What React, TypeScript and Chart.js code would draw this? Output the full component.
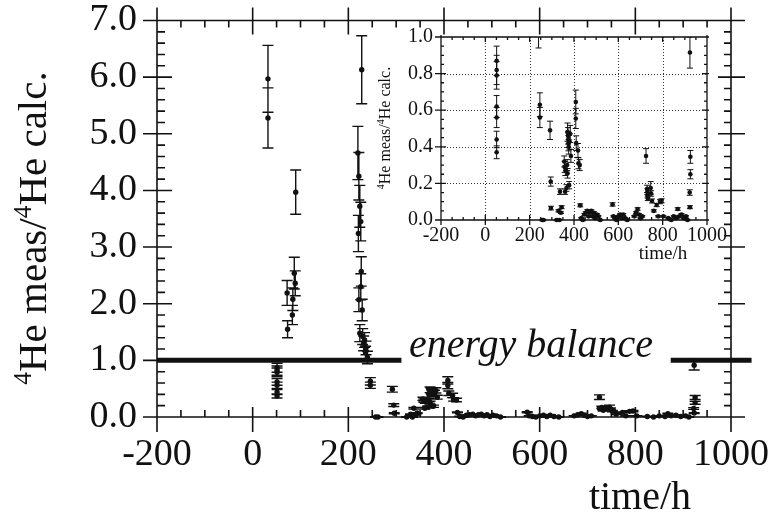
import React, { useEffect, useRef } from "react";
import { Chart, registerables } from "chart.js";
Chart.register(...registerables);

const FONT = "'Liberation Serif', 'Times New Roman', Times, serif";
const INK = "#111";

// ---- data: time/h, 4He meas / 4He calc, error ----
const times = [
  32, 32, 90, 87, 89, 72, 84, 83, 73,
  228, 220, 222, 224, 226, 221, 227, 226, 222, 229, 224, 230, 234, 232, 237, 236, 240,
  51, 51, 51, 51, 51, 51, 51,
  246, 246, 292, 295, 296, 257, 262, 322, 330, 337, 344, 341, 334,
  356, 358, 361, 360, 366, 371, 373, 374, 375, 376, 369, 371, 378, 386, 380, 383,
  408, 408, 410, 418, 420, 426, 428,
  433, 440, 447, 453, 460, 466, 472, 478, 484, 490, 496, 503, 510, 518,
  574, 578, 585, 592, 600, 608, 615, 622, 630, 640,
  672, 680, 687, 693, 700, 708,
  725, 730, 731, 732, 733, 746, 748, 752, 760, 773, 780, 788, 795, 803,
  825, 838, 850, 862, 868, 875, 885, 895, 905, 912,
  923, 925, 925, 922, 923,
];
const ratios = [
  5.97, 5.28, 3.97, 2.54, 2.36, 2.19, 2.08, 1.80, 1.55,
  6.13, 4.66, 4.25, 3.72, 3.45, 3.24, 2.57, 2.30, 2.07, 1.89, 1.48, 1.42, 1.36, 1.30, 1.22, 1.14, 1.05,
  0.87, 0.82, 0.79, 0.62, 0.56, 0.44, 0.37,
  0.63, 0.56, 0.49, 0.21, 0.065, 0.0, 0.0, 0.0, 0.05, 0.155, 0.07, 0.04, 0.0,
  0.32, 0.29, 0.27, 0.155, 0.175, 0.48, 0.46, 0.44, 0.42, 0.40, 0.30, 0.255, 0.19, 0.35, 0.43, 0.47,
  0.645, 0.555, 0.42, 0.38, 0.31, 0.30, 0.08,
  0.01, 0.0, 0.03, 0.04, 0.05, 0.02, 0.04, 0.05, 0.02, 0.04, 0.01, 0.03, 0.02, 0.0,
  0.085, 0.02, 0.01, 0.0, 0.02, 0.03, 0.01, 0.03, 0.01, 0.0,
  0.02, 0.04, 0.06, 0.03, 0.01, 0.02,
  0.35, 0.17, 0.155, 0.135, 0.118, 0.175, 0.145, 0.104, 0.05, 0.082, 0.02, 0.10, 0.105, 0.02,
  0.01, 0.0, 0.02, 0.01, 0.06, 0.02, 0.03, 0.01, 0.02, 0.0,
  0.915, 0.345, 0.25, 0.15, 0.07,
];
const errors = [
  0.59, 0.53, 0.39, 0.28, 0.22, 0.22, 0.20, 0.17, 0.15,
  0.60, 0.47, 0.42, 0.37, 0.34, 0.32, 0.26, 0.23, 0.21, 0.19, 0.15, 0.14, 0.13, 0.13, 0.12, 0.11, 0.11,
  0.08, 0.08, 0.075, 0.06, 0.055, 0.045, 0.035,
  0.065, 0.055, 0.05, 0.025, 0.01, 0.004, 0.004, 0.004, 0.006, 0.015, 0.008, 0.005, 0.004,
  0.03, 0.03, 0.027, 0.015, 0.018, 0.05, 0.045, 0.044, 0.042, 0.04, 0.03, 0.026, 0.02, 0.035, 0.043, 0.047,
  0.065, 0.055, 0.04, 0.038, 0.03, 0.03, 0.008,
  0.004, 0.004, 0.005, 0.005, 0.006, 0.004, 0.005, 0.006, 0.004, 0.005, 0.004, 0.005, 0.004, 0.004,
  0.009, 0.004, 0.004, 0.004, 0.004, 0.005, 0.004, 0.005, 0.004, 0.004,
  0.004, 0.005, 0.007, 0.005, 0.004, 0.004,
  0.04, 0.02, 0.016, 0.014, 0.012, 0.035, 0.015, 0.011, 0.006, 0.009, 0.004, 0.011, 0.011, 0.004,
  0.004, 0.004, 0.004, 0.004, 0.007, 0.004, 0.005, 0.004, 0.004, 0.004,
  0.085, 0.035, 0.025, 0.015, 0.008,
];

const mainXTicks = [-200, 0, 200, 400, 600, 800, 1000];
const mainYTicks = [0, 1, 2, 3, 4, 5, 6, 7];
const insetXTicks = [-200, 0, 200, 400, 600, 800, 1000];
const insetYTicks = [0, 0.2, 0.4, 0.6, 0.8, 1.0];
const balanceLevel = 1.0;
const balanceLeftX = [-200, 311];
const balanceRightX = [874, 1043];
const yTitleParts = [
  { t: "4", sup: true },
  { t: "He meas/", sup: false },
  { t: "4", sup: true },
  { t: "He calc.", sup: false },
];

function pointsData() {
  return times.map((t, i) => ({ x: t, y: ratios[i] }));
}

function seg(ctx: CanvasRenderingContext2D, x1: number, y1: number, x2: number, y2: number) {
  ctx.moveTo(x1, y1);
  ctx.lineTo(x2, y2);
}

function drawRotatedTitle(ctx: CanvasRenderingContext2D, baseX: number, centerY: number, size: number) {
  ctx.save();
  ctx.translate(baseX, centerY);
  ctx.rotate(-Math.PI / 2);
  ctx.fillStyle = INK;
  ctx.textBaseline = "alphabetic";
  ctx.textAlign = "left";
  const supSize = size * 0.62;
  let total = 0;
  const widths = yTitleParts.map((p) => {
    ctx.font = `${p.sup ? supSize : size}px ${FONT}`;
    const w = ctx.measureText(p.t).width;
    total += w;
    return w;
  });
  let x = -total / 2;
  yTitleParts.forEach((p, i) => {
    ctx.font = `${p.sup ? supSize : size}px ${FONT}`;
    ctx.fillText(p.t, x, p.sup ? -size * 0.36 : 0);
    x += widths[i];
  });
  ctx.restore();
}

function makeErrorBars(cap: number, lw: number, clip: boolean) {
  return {
    id: "errorBars",
    afterDatasetsDraw(chart: any) {
      const { ctx, chartArea } = chart;
      const xs = chart.scales.x;
      const ys = chart.scales.y;
      ctx.save();
      if (clip) {
        ctx.beginPath();
        ctx.rect(chartArea.left - 8, chartArea.top, chartArea.right - chartArea.left + 16, chartArea.bottom - chartArea.top + 8);
        ctx.clip();
      }
      ctx.strokeStyle = INK;
      ctx.lineWidth = lw;
      ctx.beginPath();
      for (let i = 0; i < times.length; i++) {
        const px = xs.getPixelForValue(times[i]);
        const yt = ys.getPixelForValue(ratios[i] + errors[i]);
        const yb = ys.getPixelForValue(ratios[i] - errors[i]);
        seg(ctx, px, yt, px, yb);
        seg(ctx, px - cap, yt, px + cap, yt);
        seg(ctx, px - cap, yb, px + cap, yb);
      }
      ctx.stroke();
      ctx.restore();
    },
  };
}

const mainFrame = {
  id: "mainFrame",
  afterDraw(chart: any) {
    const ctx: CanvasRenderingContext2D = chart.ctx;
    const xs = chart.scales.x;
    const ys = chart.scales.y;
    const L = xs.getPixelForValue(-200);
    const R = xs.getPixelForValue(1000);
    const T = ys.getPixelForValue(7);
    const B = ys.getPixelForValue(0);
    ctx.save();
    ctx.strokeStyle = INK;
    ctx.lineWidth = 1.6;
    ctx.beginPath();
    seg(ctx, L - 14, T, R + 14, T);
    seg(ctx, L - 14, B, R + 14, B);
    seg(ctx, L, T - 13, L, B + 15);
    seg(ctx, R, T - 13, R, B + 15);
    for (let v = -200; v <= 1000; v += 50) {
      const px = xs.getPixelForValue(v);
      if (v % 200 === 0) {
        seg(ctx, px, B - 10, px, B + 15);
        seg(ctx, px, T - 13, px, T + 14);
      } else {
        seg(ctx, px, B - 7, px, B);
        seg(ctx, px, T, px, T + 7);
      }
    }
    for (let k = 0; k <= 35; k++) {
      const py = ys.getPixelForValue(k * 0.2);
      if (k % 5 === 0) {
        seg(ctx, L - 14, py, L + 15, py);
        seg(ctx, R - 13, py, R + 14, py);
      } else {
        seg(ctx, L, py, L + 8, py);
        seg(ctx, R - 7, py, R, py);
      }
    }
    ctx.stroke();
    ctx.fillStyle = INK;
    ctx.textBaseline = "alphabetic";
    ctx.textAlign = "center";
    ctx.font = `40px ${FONT}`;
    ctx.fillText("time/h", 640, 509);
    ctx.font = `italic 40px ${FONT}`;
    ctx.fillText("energy balance", 531, 357);
    ctx.restore();
    drawRotatedTitle(ctx, 46, 228, 41);
  },
};

const insetFrame = {
  id: "insetFrame",
  beforeDatasetsDraw(chart: any) {
    const ctx: CanvasRenderingContext2D = chart.ctx;
    const xs = chart.scales.x;
    const ys = chart.scales.y;
    const L = xs.getPixelForValue(-200);
    const R = xs.getPixelForValue(1000);
    const T = ys.getPixelForValue(1);
    const B = ys.getPixelForValue(0);
    ctx.save();
    ctx.strokeStyle = "#333";
    ctx.lineWidth = 1;
    ctx.setLineDash([1, 2]);
    ctx.beginPath();
    for (let v = 0; v <= 800; v += 200) {
      const px = Math.round(xs.getPixelForValue(v)) + 0.5;
      seg(ctx, px, T, px, B);
    }
    for (let k = 1; k <= 4; k++) {
      const py = Math.round(ys.getPixelForValue(k * 0.2)) + 0.5;
      seg(ctx, L, py, R, py);
    }
    ctx.stroke();
    ctx.setLineDash([]);
    ctx.strokeStyle = INK;
    ctx.lineWidth = 1.3;
    ctx.beginPath();
    seg(ctx, L - 6, T, R + 2, T);
    seg(ctx, L - 6, B, R + 2, B);
    seg(ctx, L, T - 2, L, B + 5);
    seg(ctx, R, T - 2, R, B + 5);
    for (let v = -200; v <= 1000; v += 50) {
      const px = xs.getPixelForValue(v);
      if (v % 200 === 0) {
        seg(ctx, px, B - 5, px, B + 5);
        seg(ctx, px, T, px, T + 5);
      } else {
        seg(ctx, px, B - 3, px, B);
        seg(ctx, px, T, px, T + 3);
      }
    }
    for (let k = 0; k <= 20; k++) {
      const py = ys.getPixelForValue(k * 0.05);
      if (k % 4 === 0) {
        seg(ctx, L - 6, py, L + 5, py);
        seg(ctx, R - 5, py, R + 2, py);
      } else {
        seg(ctx, L, py, L + 3, py);
        seg(ctx, R - 3, py, R, py);
      }
    }
    ctx.stroke();
    ctx.restore();
  },
  afterDraw(chart: any) {
    const ctx: CanvasRenderingContext2D = chart.ctx;
    ctx.save();
    ctx.fillStyle = INK;
    ctx.textAlign = "center";
    ctx.textBaseline = "alphabetic";
    ctx.font = `19px ${FONT}`;
    ctx.fillText("time/h", 293, 234);
    ctx.restore();
    drawRotatedTitle(ctx, 20, 103, 16);
  },
};

function noPadX(axis: any, h: number) {
  axis.height = h;
  axis.paddingLeft = 0;
  axis.paddingRight = 0;
  axis.paddingTop = 0;
  axis.paddingBottom = 0;
}
function noPadY(axis: any, w: number) {
  axis.width = w;
  axis.paddingLeft = 0;
  axis.paddingRight = 0;
  axis.paddingTop = 0;
  axis.paddingBottom = 0;
}

export default function App() {
  const mainRef = useRef<HTMLCanvasElement>(null);
  const insetRef = useRef<HTMLCanvasElement>(null);

  useEffect(() => {
    const main = new Chart(mainRef.current as HTMLCanvasElement, {
      type: "scatter",
      data: {
        datasets: [
          {
            data: balanceLeftX.map((x) => ({ x, y: balanceLevel })),
            showLine: true,
            borderColor: INK,
            borderWidth: 5,
            pointRadius: 0,
            clip: false as any,
          },
          {
            data: balanceRightX.map((x) => ({ x, y: balanceLevel })),
            showLine: true,
            borderColor: INK,
            borderWidth: 5,
            pointRadius: 0,
            clip: false as any,
          },
          {
            data: pointsData(),
            backgroundColor: INK,
            borderColor: INK,
            borderWidth: 0,
            pointRadius: 2.7,
            clip: false as any,
          },
        ],
      },
      options: {
        animation: false,
        responsive: false,
        devicePixelRatio: 1,
        events: [],
        layout: { padding: { top: 20.5, right: 44, left: 0, bottom: 0 } },
        plugins: { legend: { display: false }, tooltip: { enabled: false } },
        scales: {
          x: {
            type: "linear",
            min: -200,
            max: 1000,
            afterBuildTicks: (axis: any) => {
              axis.ticks = mainXTicks.map((v) => ({ value: v }));
            },
            afterFit: (axis: any) => noPadX(axis, 98),
            grid: { display: false, drawTicks: false },
            border: { display: false },
            ticks: {
              autoSkip: false,
              maxRotation: 0,
              padding: 15,
              color: INK,
              font: { family: FONT, size: 38 },
              callback: (v: any) => String(v),
            },
          },
          y: {
            type: "linear",
            min: 0,
            max: 7,
            afterBuildTicks: (axis: any) => {
              axis.ticks = mainYTicks.map((v) => ({ value: v }));
            },
            afterFit: (axis: any) => noPadY(axis, 157),
            grid: { display: false, drawTicks: false },
            border: { display: false },
            ticks: {
              padding: 20,
              color: INK,
              font: { family: FONT, size: 38 },
              callback: (v: any) => Number(v).toFixed(1),
            },
          },
        },
      },
      plugins: [makeErrorBars(5.5, 1.4, false), mainFrame],
    } as any);

    const inset = new Chart(insetRef.current as HTMLCanvasElement, {
      type: "scatter",
      data: {
        datasets: [
          {
            data: pointsData(),
            backgroundColor: INK,
            borderColor: INK,
            borderWidth: 0,
            pointRadius: 2.3,
            clip: { left: 6, right: 6, top: 0, bottom: 6 } as any,
          },
        ],
      },
      options: {
        animation: false,
        responsive: false,
        devicePixelRatio: 1,
        events: [],
        layout: { padding: { top: 12, right: 33, left: 0, bottom: 0 } },
        plugins: { legend: { display: false }, tooltip: { enabled: false } },
        scales: {
          x: {
            type: "linear",
            min: -200,
            max: 1000,
            afterBuildTicks: (axis: any) => {
              axis.ticks = insetXTicks.map((v) => ({ value: v }));
            },
            afterFit: (axis: any) => noPadX(axis, 55),
            grid: { display: false, drawTicks: false },
            border: { display: false },
            ticks: {
              autoSkip: false,
              maxRotation: 0,
              padding: 4,
              color: INK,
              font: { family: FONT, size: 20 },
              callback: (v: any) => String(v),
            },
          },
          y: {
            type: "linear",
            min: 0,
            max: 1,
            afterBuildTicks: (axis: any) => {
              axis.ticks = insetYTicks.map((v) => ({ value: v }));
            },
            afterFit: (axis: any) => noPadY(axis, 71),
            grid: { display: false, drawTicks: false },
            border: { display: false },
            ticks: {
              padding: 8,
              color: INK,
              font: { family: FONT, size: 20 },
              callback: (v: any) => Number(v).toFixed(1),
            },
          },
        },
      },
      plugins: [makeErrorBars(3, 1, true), insetFrame],
    } as any);

    return () => {
      main.destroy();
      inset.destroy();
    };
  }, []);

  return (
    <div style={{ position: "fixed", left: 0, top: 0, width: 775, height: 515, background: "#fff" }}>
      <canvas
        ref={mainRef}
        width={775}
        height={515}
        style={{ position: "absolute", left: 0, top: 0, width: 775, height: 515 }}
      />
      <canvas
        ref={insetRef}
        width={370}
        height={250}
        style={{ position: "absolute", left: 370, top: 25, width: 370, height: 250 }}
      />
    </div>
  );
}
